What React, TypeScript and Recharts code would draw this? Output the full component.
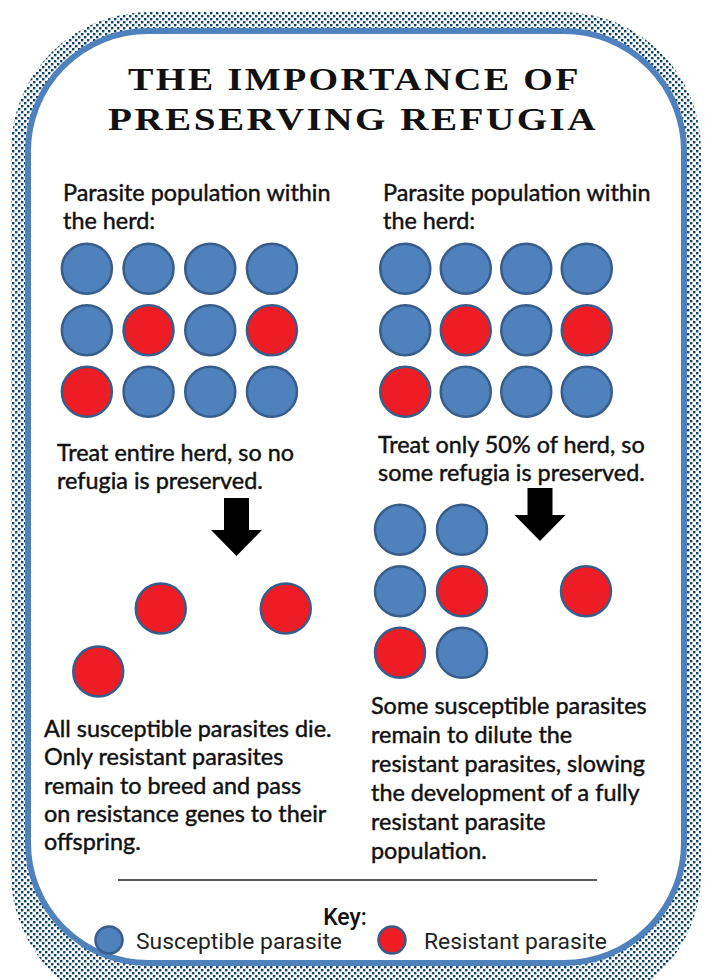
import { ScatterChart, Scatter, XAxis, YAxis } from "recharts";

// herd before treatment: S = susceptible, R = resistant (rows top to bottom)
const herdRows = [
  ["S", "S", "S", "S"],
  ["S", "R", "S", "R"],
  ["R", "S", "S", "S"],
];

// survivors after treating the whole herd
const survivorsNoRefugia = [
  { col: 1, row: 0, kind: "R" },
  { col: 3, row: 0, kind: "R" },
  { col: 0, row: 1, kind: "R" },
];

// survivors after treating only half the herd
const survivorsRefugia = [
  { col: 0, row: 0, kind: "S" },
  { col: 1, row: 0, kind: "S" },
  { col: 0, row: 1, kind: "S" },
  { col: 1, row: 1, kind: "R" },
  { col: 3, row: 1, kind: "R" },
  { col: 0, row: 2, kind: "R" },
  { col: 1, row: 2, kind: "S" },
];

const titleLines = ["THE IMPORTANCE OF", "PRESERVING REFUGIA"];
const introLines = ["Parasite population within", "the herd:"];
const leftTreatLines = ["Treat entire herd, so no", "refugia is preserved."];
const rightTreatLines = ["Treat only 50% of herd, so", "some refugia is preserved."];
const leftOutcomeLines = [
  "All susceptible parasites die.",
  "Only resistant parasites",
  "remain to breed and pass",
  "on resistance genes to their",
  "offspring.",
];
const rightOutcomeLines = [
  "Some susceptible parasites",
  "remain to dilute the",
  "resistant parasites, slowing",
  "the development of a fully",
  "resistant parasite",
  "population.",
];
const keyItems = [
  { kind: "S", label: "Susceptible parasite" },
  { kind: "R", label: "Resistant parasite" },
];

const BLUE = "#4f81bd";
const RED = "#ee1c25";
const OUTLINE = "#385d8a";
const BODY_FONT = "Lato, 'Noto Sans', sans-serif";
const TITLE_FONT = "'Liberation Serif', 'DejaVu Serif', serif";

const herdPoints = herdRows.flatMap((r, row) =>
  r.map((kind, col) => ({ col, row, kind }))
);

const makeDot = (fill: string, r: number) => (props: any) =>
  (
    <circle
      cx={props.cx}
      cy={props.cy}
      r={r}
      fill={fill}
      stroke={OUTLINE}
      strokeWidth={2.5}
    />
  );

interface ClusterProps {
  data: Array<{ col: number; row: number; kind: string }>;
  x0: number;
  y0: number;
  stepX: number;
  stepY: number;
  cols: number;
  rows: number;
}

function Cluster({ data, x0, y0, stepX, stepY, cols, rows }: ClusterProps) {
  const w = cols * stepX;
  const h = rows * stepY;
  return (
    <div style={{ position: "absolute", left: x0 - stepX / 2, top: y0 - stepY / 2 }}>
      <ScatterChart width={w} height={h} margin={{ top: 0, right: 0, bottom: 0, left: 0 }}>
        <XAxis type="number" dataKey="col" domain={[-0.5, cols - 0.5]} hide />
        <YAxis type="number" dataKey="row" domain={[-0.5, rows - 0.5]} reversed hide />
        <Scatter
          data={data.filter((d) => d.kind === "S")}
          shape={makeDot(BLUE, 25)}
          isAnimationActive={false}
        />
        <Scatter
          data={data.filter((d) => d.kind === "R")}
          shape={makeDot(RED, 25)}
          isAnimationActive={false}
        />
      </ScatterChart>
    </div>
  );
}

function Lines({ lines, x, y, gap }: { lines: string[]; x: number; y: number; gap: number }) {
  return (
    <>
      {lines.map((t, i) => (
        <text
          key={i}
          x={x}
          y={y + i * gap}
          fontFamily={BODY_FONT}
          fontSize={23.4}
          fill="#111"
          stroke="#111"
          strokeWidth={0.45}
        >
          {t}
        </text>
      ))}
    </>
  );
}

function Arrow({ cx, top, shaftEnd, tip }: { cx: number; top: number; shaftEnd: number; tip: number }) {
  const sw = 12.5;
  const hw = 25.5;
  const d = `M${cx - sw},${top} L${cx + sw},${top} L${cx + sw},${shaftEnd} L${cx + hw},${shaftEnd} L${cx},${tip} L${cx - hw},${shaftEnd} L${cx - sw},${shaftEnd} Z`;
  return <path d={d} fill="#000" />;
}

export default function App() {
  return (
    <div
      style={{
        position: "absolute",
        left: 0,
        top: 0,
        width: 705,
        height: 980,
        background: "#fff",
        overflow: "hidden",
      }}
    >
      {/* frame */}
      <svg width={705} height={980} style={{ position: "absolute", left: 0, top: 0 }}>
        <defs>
          <pattern id="dots" width={6} height={6} patternUnits="userSpaceOnUse">
            <rect width={6} height={6} fill="#fff" />
            <rect x={0} y={0} width={2.4} height={2.4} fill="#0f4567" />
            <rect x={3} y={3} width={2.4} height={2.4} fill="#0f4567" />
          </pattern>
        </defs>
        <rect x={11} y={12} width={690} height={1000} rx={138} fill="url(#dots)" />
        <rect
          x={28}
          y={31}
          width={656}
          height={932}
          rx={120}
          fill="#fff"
          stroke={BLUE}
          strokeWidth={6}
        />
      </svg>

      <Cluster data={herdPoints} x0={87} y0={269} stepX={61.7} stepY={61.5} cols={4} rows={3} />
      <Cluster data={herdPoints} x0={405} y0={269} stepX={60.5} stepY={61.5} cols={4} rows={3} />
      <Cluster data={survivorsNoRefugia} x0={98} y0={608} stepX={62.5} stepY={63} cols={4} rows={2} />
      <Cluster data={survivorsRefugia} x0={400} y0={530} stepX={62} stepY={61.5} cols={4} rows={3} />

      {/* text, arrows and key */}
      <svg
        width={705}
        height={980}
        style={{ position: "absolute", left: 0, top: 0, pointerEvents: "none" }}
      >
        <text
          x={128}
          y={90}
          textLength={453}
          lengthAdjust="spacingAndGlyphs"
          fontFamily={TITLE_FONT}
          fontWeight={700}
          fontSize={32}
          letterSpacing={2}
          fill="#111"
        >
          {titleLines[0]}
        </text>
        <text
          x={108}
          y={130}
          textLength={490}
          lengthAdjust="spacingAndGlyphs"
          fontFamily={TITLE_FONT}
          fontWeight={700}
          fontSize={32}
          letterSpacing={2}
          fill="#111"
        >
          {titleLines[1]}
        </text>

        <Lines lines={introLines} x={63} y={201} gap={28} />
        <Lines lines={introLines} x={383} y={201} gap={28} />
        <Lines lines={leftTreatLines} x={57} y={461} gap={28} />
        <Lines lines={rightTreatLines} x={378} y={453} gap={28} />
        <Lines lines={leftOutcomeLines} x={44} y={737} gap={28.3} />
        <Lines lines={rightOutcomeLines} x={371} y={714} gap={29} />

        <Arrow cx={236.5} top={498} shaftEnd={530} tip={556} />
        <Arrow cx={540} top={488} shaftEnd={515} tip={541} />

        <line x1={118} y1={880} x2={597} y2={880} stroke="#222" strokeWidth={1.5} />

        <text
          x={345}
          y={925}
          textAnchor="middle"
          fontFamily="Roboto, sans-serif"
          fontWeight={500}
          fontSize={23}
          fill="#111"
        >
          Key:
        </text>
        {keyItems.map((k, i) => {
          const cx = i === 0 ? 109 : 392;
          const tx = i === 0 ? 136 : 424;
          const tl = i === 0 ? 206 : 183;
          return (
            <g key={k.label}>
              <circle
                cx={cx}
                cy={940}
                r={13.5}
                fill={k.kind === "S" ? BLUE : RED}
                stroke={OUTLINE}
                strokeWidth={2.5}
              />
              <text
                x={tx}
                y={949}
                textLength={tl}
                lengthAdjust="spacingAndGlyphs"
                fontFamily="Roboto, sans-serif"
                fontSize={22}
                fill="#222"
              >
                {k.label}
              </text>
            </g>
          );
        })}
      </svg>
    </div>
  );
}
